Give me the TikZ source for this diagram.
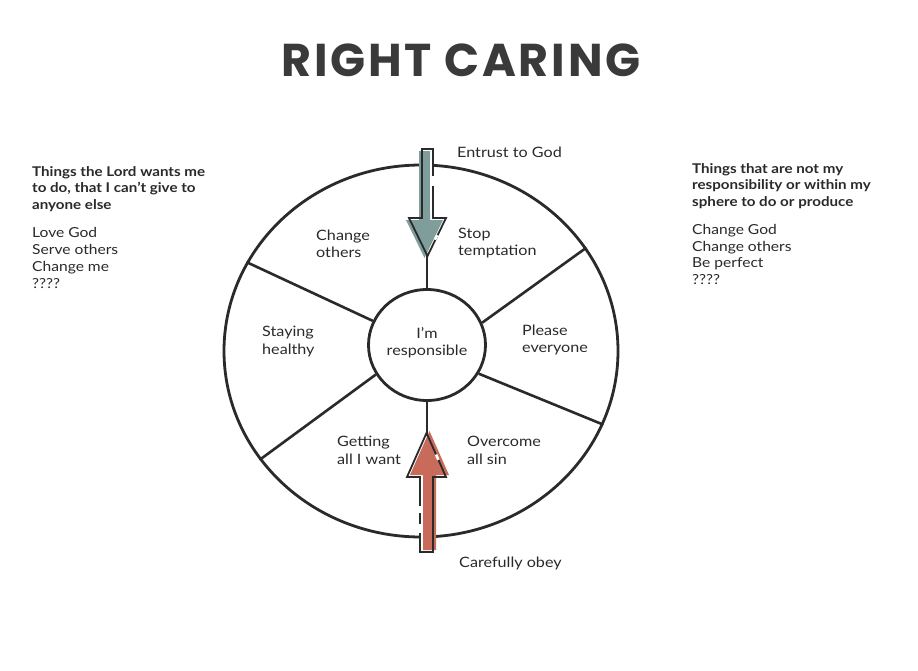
\documentclass[tikz,border=0pt]{standalone}
\usepackage{fontspec}
\setmainfont{Lato}[FakeStretch=1.13]
\newfontfamily\titlefont[LetterSpace=6]{Poppins}
\usetikzlibrary{shapes.geometric}
\definecolor{ink}{HTML}{2A2A2A}
\definecolor{titlegray}{HTML}{3A3A3A}
\definecolor{arrowteal}{HTML}{7E9D9B}
\definecolor{arrowred}{HTML}{C96B5B}
\tikzset{
  ring/.style={draw=ink, line width=2.8pt, inner sep=0pt},
  spoke/.style={draw=ink, line width=2.6pt},
  lbl/.style={font=\fontsize{14.3}{17.5}\selectfont, text=ink, inner sep=0pt, align=left, anchor=west},
  hdr/.style={font=\bfseries\fontsize{13.4}{16.5}\selectfont, text=ink, inner sep=0pt, align=left, anchor=west},
  lst/.style={font=\fontsize{13.8}{16.7}\selectfont, text=ink, inner sep=0pt, align=left, anchor=west},
  arrowline/.style={draw=ink, line width=1.8pt, line join=miter},
  gap/.style={draw=white, line width=2.6pt}
}
\begin{document}
\begin{tikzpicture}[x=1pt,y=-1pt]
\useasboundingbox (0,0) rectangle (918,670);
\fill[white] (0,0) rectangle (918,670);

% title
\node[font=\titlefont\bfseries\fontsize{46}{50}\selectfont, text=titlegray, inner sep=0pt] (title) at (461,60) {RIGHT CARING};

% wheel
\node[ring, ellipse, minimum width=394pt, minimum height=372pt] (outer) at (421,351) {};
\node[ring, ellipse, minimum width=117pt, minimum height=111pt] (inner) at (427,345) {};
\node[lbl, anchor=center, align=center] (resp) at (427,343) {I’m\\responsible};

% spokes
\draw[spoke] (inner.156) -- (outer.153);
\draw[spoke] (inner.210) -- (outer.214);
\draw[spoke] (inner.22) -- (outer.32);
\draw[spoke] (inner.331) -- (outer.338);
\draw[spoke] (inner.north) -- (inner.north |- outer.north);
\draw[spoke] (inner.south) -- (inner.south |- outer.south);

% top arrow (teal)
\fill[white] (422,149) -- (433,149) -- (433,218) -- (446,218) -- (427.5,256) -- (409,218) -- (422,218) -- cycle;
\fill[arrowteal, shift={(-3,2)}] (422,149) -- (433,149) -- (433,218) -- (446,218) -- (427.5,256) -- (409,218) -- (422,218) -- cycle;
\draw[arrowline] (422,149) -- (433,149) -- (433,218) -- (446,218) -- (427.5,256) -- (409,218) -- (422,218) -- cycle;
\draw[gap] (433,176) -- (433,186);
\draw[gap] (437.2,235.1) -- (434.9,239.6);
\draw[draw=white, line width=1pt] (430,160) -- (430,212);

% bottom arrow (red)
\fill[white] (420,552) -- (433,552) -- (433,477) -- (446,477) -- (426.5,433) -- (407,477) -- (420,477) -- cycle;
\fill[arrowred, shift={(3,-2)}] (420,552) -- (433,552) -- (433,477) -- (446,477) -- (426.5,433) -- (407,477) -- (420,477) -- cycle;
\draw[arrowline] (420,552) -- (433,552) -- (433,477) -- (446,477) -- (426.5,433) -- (407,477) -- (420,477) -- cycle;
\draw[gap] (420,506) -- (420,513);
\draw[gap] (420,524) -- (420,533);
\draw[gap] (436.0,454.5) -- (438.4,459.8);

% labels in the wheel
\node[lbl] (chg) at (316,244) {Change\\others};
\node[lbl] (stop) at (458,243) {Stop\\temptation};
\node[lbl] (stay) at (262,341.5) {Staying\\healthy};
\node[lbl] (please) at (522,340) {Please\\everyone};
\node[lbl] (get) at (337,450.5) {Getting\\all I want};
\node[lbl] (over) at (467,450.5) {Overcome\\all sin};
\node[lbl] (entrust) at (457,152) {Entrust to God};
\node[lbl] (obey) at (459,563) {Carefully obey};

% side texts
\node[hdr] (lhdr) at (32,189) {Things the Lord wants me\\to do, that I can’t give to\\anyone else};
\node[lst] (llist) at (32,258) {Love God\\Serve others\\Change me\\????};
\node[hdr] (rhdr) at (692,186) {Things that are not my\\responsibility or within my\\sphere to do or produce};
\node[lst] (rlist) at (692,254.5) {Change God\\Change others\\Be perfect\\????};
\end{tikzpicture}
\end{document}
